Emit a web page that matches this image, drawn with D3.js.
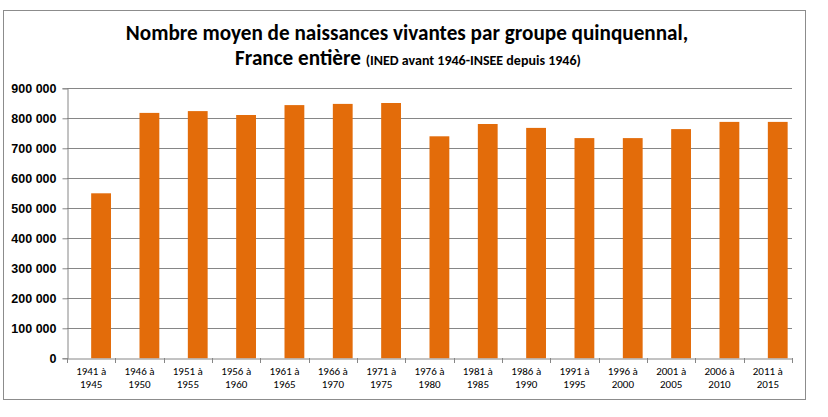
<!DOCTYPE html>
<html>
<head>
<meta charset="utf-8">
<script src="https://cdn.jsdelivr.net/npm/d3@7"></script>
<style>
  body { margin: 0; background: #fff; }
  svg { font-family: Carlito, Calibri, "Liberation Sans Narrow", "Open Sans", sans-serif; }
</style>
</head>
<body>
<svg id="chart"></svg>
<script>
// periodes quinquennales
var categories = ["1941 à 1945", "1946 à 1950", "1951 à 1955", "1956 à 1960", "1961 à 1965",
    "1966 à 1970", "1971 à 1975", "1976 à 1980", "1981 à 1985", "1986 à 1990",
    "1991 à 1995", "1996 à 2000", "2001 à 2005", "2006 à 2010", "2011 à 2015"];
var naissances = [550000, 818000, 824000, 811000, 844000, 848000, 851000, 740000,
    781000, 768000, 734000, 734000, 764000, 788000, 788000];
var yTicks = [0, 100000, 200000, 300000, 400000, 500000, 600000, 700000, 800000, 900000];

var width = 828,
    height = 417;

var margin = {left: 67, right: 36, top: 88.3, bottom: 58.7};

var svg = d3.select("#chart")
    .attr("width", width)
    .attr("height", height);

// cadre
svg.append("rect")
    .attr("x", 3.5).attr("y", 10.5)
    .attr("width", 802).attr("height", 389)
    .attr("fill", "none")
    .attr("stroke", "#8c8c8c");

var x = d3.scaleBand()
    .domain(categories)
    .range([margin.left, width - margin.right]);

var y = d3.scaleLinear()
    .domain([0, 900000])
    .range([height - margin.bottom, margin.top]);

var fr = d3.formatLocale({decimal: ",", thousands: "\u00a0", grouping: [3], currency: ["", " €"]});
var fmt = fr.format(",d");

// grille
svg.append("g")
    .selectAll("line")
    .data(yTicks.slice(1))
    .enter().append("line")
    .attr("x1", margin.left).attr("x2", width - margin.right)
    .attr("y1", function(d) { return Math.round(y(d)) + 0.5; })
    .attr("y2", function(d) { return Math.round(y(d)) + 0.5; })
    .attr("stroke", "#868686")
    .attr("stroke-width", 1);

// barres (decalees a droite comme dans Excel avec une serie vide)
svg.append("g")
    .selectAll("rect")
    .data(naissances)
    .enter().append("rect")
    .attr("x", function(d, i) { return x(categories[i]) + x.bandwidth() / 2; })
    .attr("width", x.bandwidth() * 0.41)
    .attr("y", function(d) { return y(d); })
    .attr("height", function(d) { return y(0) - y(d); })
    .attr("fill", "#e36c0a");

// axe y
var yAxis = svg.append("g")
    .attr("transform", "translate(" + (margin.left + 0.5) + ",0)")
    .call(d3.axisLeft(y).tickValues(yTicks).tickFormat(fmt).tickSize(5).tickPadding(6));
yAxis.select(".domain").attr("stroke", "#868686");
yAxis.selectAll(".tick line").attr("stroke", "#868686");
yAxis.selectAll("text")
    .attr("fill", "#000")
    .style("font-size", "12.5px")
    .style("font-weight", "bold");

// axe x
var xAxis = svg.append("g")
    .attr("transform", "translate(0," + (Math.round(y(0)) + 0.5) + ")")
    .call(d3.axisBottom(x).tickSize(0).tickFormat(""));
xAxis.select(".domain").attr("stroke", "#868686");

svg.append("g")
    .selectAll("line")
    .data(categories.concat(["fin"]))
    .enter().append("line")
    .attr("x1", function(d, i) { return Math.round(margin.left + i * x.bandwidth()) + 0.5; })
    .attr("x2", function(d, i) { return Math.round(margin.left + i * x.bandwidth()) + 0.5; })
    .attr("y1", Math.round(y(0)))
    .attr("y2", Math.round(y(0)) + 5)
    .attr("stroke", "#868686");

var labels = svg.append("g")
    .selectAll("text")
    .data(categories)
    .enter().append("text")
    .attr("text-anchor", "middle")
    .attr("fill", "#000")
    .style("font-size", "11px");

labels.append("tspan")
    .attr("x", function(d) { return x(d) + x.bandwidth() / 2; })
    .attr("y", 375)
    .text(function(d) { return d.split(" à ")[0] + " à"; });
labels.append("tspan")
    .attr("x", function(d) { return x(d) + x.bandwidth() / 2; })
    .attr("y", 388)
    .text(function(d) { return d.split(" à ")[1]; });

// titre
svg.append("text")
    .attr("x", 407).attr("y", 40)
    .attr("text-anchor", "middle")
    .style("font-size", "21.2px")
    .style("font-weight", "bold")
    .text("Nombre moyen de naissances vivantes par groupe quinquennal,");

var t2 = svg.append("text")
    .attr("x", 408).attr("y", 65)
    .attr("text-anchor", "middle")
    .style("font-weight", "bold");
t2.append("tspan").style("font-size", "21.2px").text("France entière ");
t2.append("tspan").style("font-size", "14px").text("(INED avant 1946-INSEE depuis 1946)");
</script>
</body>
</html>
